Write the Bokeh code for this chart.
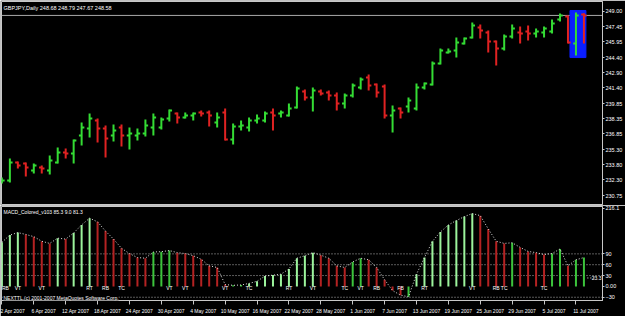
from bokeh.plotting import figure
from bokeh.layouts import column
from bokeh.models import Range1d, FixedTicker, PrintfTickFormatter, Span, Label, ColumnDataSource
from bokeh.embed import file_html
from bokeh.resources import INLINE
from bokeh.core.properties import value

# ---------------- data ----------------
dates = ["2 Apr 2007", "6 Apr 2007", "12 Apr 2007", "18 Apr 2007", "24 Apr 2007",
         "30 Apr 2007", "4 May 2007", "10 May 2007", "16 May 2007", "22 May 2007",
         "28 May 2007", "1 Jun 2007", "7 Jun 2007", "13 Jun 2007", "19 Jun 2007",
         "25 Jun 2007", "29 Jun 2007", "5 Jul 2007", "11 Jul 2007"]
date_idx = [0, 4, 8, 12, 16, 20, 24, 28, 32, 36, 40, 44, 48, 52, 56, 60, 64, 68, 72]

opens = [232.14, 232.24, 234.02, 233.92, 233.23, 233.52, 233.23, 234.02, 235.01, 234.91,
         236.69, 237.38, 238.18, 237.38, 236.69, 237.48, 236.69, 236.69, 236.89, 237.48,
         237.48, 238.37, 238.87, 238.47, 238.67, 238.97, 238.97, 237.98, 238.97, 236.29,
         237.58, 237.48, 238.18, 238.18, 238.97, 238.87, 238.67, 239.46, 241.05, 240.45,
         241.05, 240.95, 240.65, 239.86, 240.65, 241.44, 242.43, 241.74, 241.54, 238.67,
         239.36, 239.56, 239.36, 241.44, 241.74, 243.82, 244.91, 245.11, 245.80, 246.39,
         247.38, 246.89, 246.00, 245.30, 246.49, 246.89, 246.99, 246.79, 246.89, 246.99,
         248.18, 248.47, 245.80, 248.68]
highs = [232.53, 234.41, 234.12, 234.02, 233.92, 233.72, 234.71, 235.50, 235.40, 236.29,
         237.98, 238.87, 238.37, 237.68, 237.78, 237.78, 237.48, 237.38, 238.27, 238.87,
         238.47, 239.26, 238.97, 238.97, 238.97, 239.17, 239.17, 238.97, 239.36, 237.88,
         238.18, 238.47, 238.77, 239.07, 239.36, 239.17, 239.86, 241.54, 241.25, 241.44,
         241.25, 241.15, 240.95, 240.85, 241.84, 242.43, 242.73, 241.84, 241.74, 239.66,
         239.46, 240.45, 241.84, 241.94, 244.02, 245.30, 245.30, 246.39, 246.39, 247.88,
         247.68, 247.09, 246.10, 246.69, 247.68, 247.48, 247.58, 247.28, 247.48, 248.18,
         248.77, 248.57, 248.87, 248.79]
lows = [231.94, 232.04, 233.42, 232.63, 232.93, 232.93, 232.83, 233.92, 234.41, 233.92,
        235.70, 236.49, 236.00, 234.51, 236.10, 235.60, 235.30, 236.20, 236.59, 236.69,
        237.28, 238.08, 237.88, 238.37, 238.18, 238.57, 237.58, 237.48, 236.20, 235.80,
        237.19, 237.09, 237.88, 237.98, 237.19, 238.47, 238.57, 239.36, 240.16, 239.07,
        240.65, 240.16, 239.17, 239.36, 240.45, 241.25, 241.15, 240.45, 238.37, 236.99,
        238.37, 238.97, 239.17, 241.25, 241.64, 243.72, 244.81, 244.41, 245.70, 246.29,
        246.29, 244.91, 243.62, 245.11, 246.29, 245.80, 246.10, 246.39, 246.39, 246.79,
        247.98, 245.80, 244.61, 245.80]
closes = [232.24, 234.02, 233.72, 233.52, 233.72, 233.42, 234.22, 235.01, 234.91, 236.20,
          237.48, 238.37, 237.38, 236.39, 237.19, 236.69, 236.89, 236.89, 237.68, 238.47,
          238.27, 239.17, 238.47, 238.67, 238.87, 238.87, 238.67, 238.47, 236.29, 237.58,
          237.68, 238.18, 238.37, 238.87, 238.67, 238.97, 239.36, 241.34, 240.45, 241.15,
          240.85, 240.65, 239.86, 240.65, 241.64, 242.24, 241.64, 240.95, 238.67, 239.17,
          238.97, 240.16, 241.44, 241.84, 243.82, 245.11, 245.01, 245.90, 246.29, 247.58,
          247.09, 246.00, 245.30, 246.49, 247.28, 246.79, 246.79, 246.99, 247.28, 247.78,
          248.57, 245.90, 248.57, 248.58]

macd = [122.0, 141.9, 148.8, 143.7, 137.6, 124.8, 118.9, 133.5, 130.9, 147.8,
        170.1, 188.7, 178.5, 152.9, 130.9, 105.4, 90.8, 79.8, 78.0, 95.1,
        96.0, 99.2, 93.4, 90.8, 84.9, 75.0, 56.8, 52.4, 5.0, 3.0,
        4.0, 8.2, 14.1, 28.6, 31.2, 33.8, 48.1, 78.0, 84.9, 93.4,
        86.4, 78.0, 56.8, 52.4, 67.8, 78.0, 73.7, 52.4, 18.4, -11.5,
        -24.3, -28.6, 33.8, 79.8, 124.8, 150.4, 170.1, 182.1, 193.1, 201.5,
        195.7, 159.1, 124.8, 118.9, 120.7, 107.9, 96.7, 93.4, 88.2, 90.8,
        103.6, 56.8, 73.7, 79.8]
# G = light green, D = dark green, R = red
macd_cls = list("GGGRRRRGRG" "GGRRRRRRRD" "DDRRRRRRRD" "DGGGGGGGGG" "RRRRDDRRRR"
                "RDGGGGGGGG" "RRRRDRRRRD" "DRDD")

sig_idx = [0, 2, 5, 11, 13, 15, 21, 23, 28, 31, 36, 39, 43, 45, 47, 50, 53, 59, 62, 63, 68]
sig_txt = ["RB", "VT", "VT", "RT", "RB", "TC", "VT", "VT", "VT", "TC", "RT", "VT", "TC",
           "VT", "RB", "FB", "RT", "VT", "RB", "TC", "TC"]

price_ticks = [230.75, 232.30, 233.80, 235.30, 236.85, 238.35, 239.85, 241.40, 242.90,
               244.40, 245.95, 247.45, 249.00]
macd_ticks = [216.1, 90, 60, 30, 0, -30]
macd_levels = [90, 60, 30, -30]
macd_last_label = 23.3
bid = 248.58
box_left, box_right, box_top, box_bottom = 71.25, 73.25, 249.07, 244.41

main_title = "GBPJPY,Daily  248.68 248.79 247.67 248.58"
macd_title = "MACD_Colored_v103 85.3 9.0 81.3"
copyright_txt = "NEXTTL.(c) 2001-2007 MetaQuotes Software Corp."

# ---------------- style ----------------
FONT = "Liberation Sans"
BG = "black"
FRAME = "#C8C8C8"
UP = "#34DC34"
DN = "#E02222"
MCOL = {"G": "#9CF49C", "D": "#3CC43C", "R": "#B42222"}
X0, X1 = -0.05, 75.33
TICK = 0.34
SIG_Y = -5
LAB_OFF = 1.25

idx = list(range(len(closes)))

# ---------------- price panel ----------------
p1 = figure(width=625, height=205, x_range=Range1d(X0, X1), y_range=Range1d(229.86, 249.96),
            x_axis_location=None, y_axis_location="right", output_backend="svg",
            toolbar_location=None, background_fill_color=BG, border_fill_color=BG,
            outline_line_color=FRAME, min_border_left=1, min_border_right=21,
            min_border_top=1, min_border_bottom=1)
p1.grid.visible = False
ay = p1.yaxis[0]
ay.ticker = FixedTicker(ticks=price_ticks)
ay.formatter = PrintfTickFormatter(format="%.2f")
ay.major_label_text_font = FONT
ay.major_label_text_font_size = "5.5px"
ay.major_label_text_color = "white"
ay.major_tick_out = 2
ay.major_tick_in = 0
ay.minor_tick_out = 0
ay.minor_tick_in = 0
ay.major_label_standoff = 1
ay.major_tick_line_color = FRAME
ay.axis_line_color = FRAME

p1.add_layout(Span(location=bid, dimension="width", line_color="#A8A8A8", line_width=1,
                   level="underlay"))
p1.quad(left=[box_left], right=[box_right], top=[box_top], bottom=[box_bottom],
        fill_color="#0A1EFF", line_color="#0A1EFF")

cols = [UP if c >= o else DN for o, c in zip(opens, closes)]
src = ColumnDataSource(dict(x=idx, xl=[i - TICK for i in idx], xr=[i + TICK for i in idx],
                            o=opens, h=highs, l=lows, c=closes, col=cols))
p1.segment(x0="x", y0="l", x1="x", y1="h", line_color="col", line_width=2, source=src)
p1.segment(x0="xl", y0="o", x1="x", y1="o", line_color="col", line_width=2, source=src)
p1.segment(x0="x", y0="c", x1="xr", y1="c", line_color="col", line_width=2, source=src)

p1.add_layout(Label(x=X0, y=249.62, x_offset=2, text=main_title, text_baseline="top",
                    text_align="left", text_color="white", text_font=FONT,
                    text_font_size="5.5px"))
p1.add_layout(Label(x=X1, y=bid, x_offset=2, text=f"{bid:.2f}", text_baseline="middle",
                    text_align="left", text_color="black", text_font=FONT,
                    text_font_size="5.5px", background_fill_color="white"))

# ---------------- MACD panel ----------------
p2 = figure(width=625, height=111, x_range=p1.x_range, y_range=Range1d(-39, 221),
            y_axis_location="right", output_backend="svg", toolbar_location=None,
            background_fill_color=BG, border_fill_color=BG, outline_line_color=FRAME,
            min_border_left=1, min_border_right=21, min_border_top=1, min_border_bottom=10)
p2.grid.visible = False
ay2 = p2.yaxis[0]
ay2.ticker = FixedTicker(ticks=macd_ticks)
ay2.major_label_overrides = {0: "0.00"}
ay2.major_label_text_font = FONT
ay2.major_label_text_font_size = "5.5px"
ay2.major_label_text_color = "white"
ay2.major_tick_out = 2
ay2.major_tick_in = 0
ay2.minor_tick_out = 0
ay2.minor_tick_in = 0
ay2.major_label_standoff = 1
ay2.major_tick_line_color = FRAME
ay2.axis_line_color = FRAME

ax2 = p2.xaxis[0]
major = [k + LAB_OFF for k in date_idx]
ax2.ticker = FixedTicker(ticks=major, minor_ticks=date_idx)
ax2.major_label_overrides = {m: d for m, d in zip(major, dates)}
ax2.major_tick_out = 0
ax2.major_tick_in = 0
ax2.minor_tick_out = 4
ax2.minor_tick_in = 0
ax2.minor_tick_line_color = FRAME
ax2.axis_line_color = FRAME
ax2.major_label_standoff = 3
ax2.major_label_text_font = FONT
ax2.major_label_text_font_size = "5px"
ax2.major_label_text_color = "white"

for lv in macd_levels:
    p2.add_layout(Span(location=lv, dimension="width", line_color="#B4B4B4", line_width=1,
                       line_dash="1 2", level="underlay"))

msrc = ColumnDataSource(dict(x=idx, y0=[0] * len(idx), y1=macd,
                             col=[MCOL[c] for c in macd_cls]))
p2.segment(x0="x", y0="y0", x1="x", y1="y1", line_color="col", line_width=2, source=msrc)
p2.line(idx, macd, line_color="#E0E0E0", line_width=1, line_dash="1 2")

p2.segment(x0=[X1 - 1.9], y0=[macd_last_label], x1=[X1 - 1.0], y1=[macd_last_label],
           line_color="#E0E0E0", line_dash="1 2", line_width=1)
p2.add_layout(Label(x=X1, y=macd_last_label, x_offset=-1, text=f"{macd_last_label}",
                    text_align="right", text_baseline="middle", text_color="white",
                    text_font=FONT, text_font_size="5px"))

# the first signal label sits at the left edge: anchor it by its left side
sig_align = ["left" if k <= X0 + 0.5 else "center" for k in sig_idx]
ssrc = ColumnDataSource(dict(x=sig_idx, y=[SIG_Y] * len(sig_idx), t=sig_txt, al=sig_align))
p2.text(x="x", y="y", text="t", source=ssrc, text_align="al", text_baseline="middle",
        text_color="white", text_font=value(FONT), text_font_size=value("5px"))

p2.add_layout(Label(x=X0, y=215, x_offset=2, text=macd_title, text_baseline="top",
                    text_align="left", text_color="white", text_font=FONT,
                    text_font_size="5px"))
p2.add_layout(Label(x=X0, y=-31, x_offset=2, text=copyright_txt, text_baseline="middle",
                    text_align="left", text_color="white", text_font=FONT,
                    text_font_size="5px", background_fill_color=BG))

layout = column(p1, p2, spacing=0)
open("out.html", "w").write(file_html(layout, INLINE))
